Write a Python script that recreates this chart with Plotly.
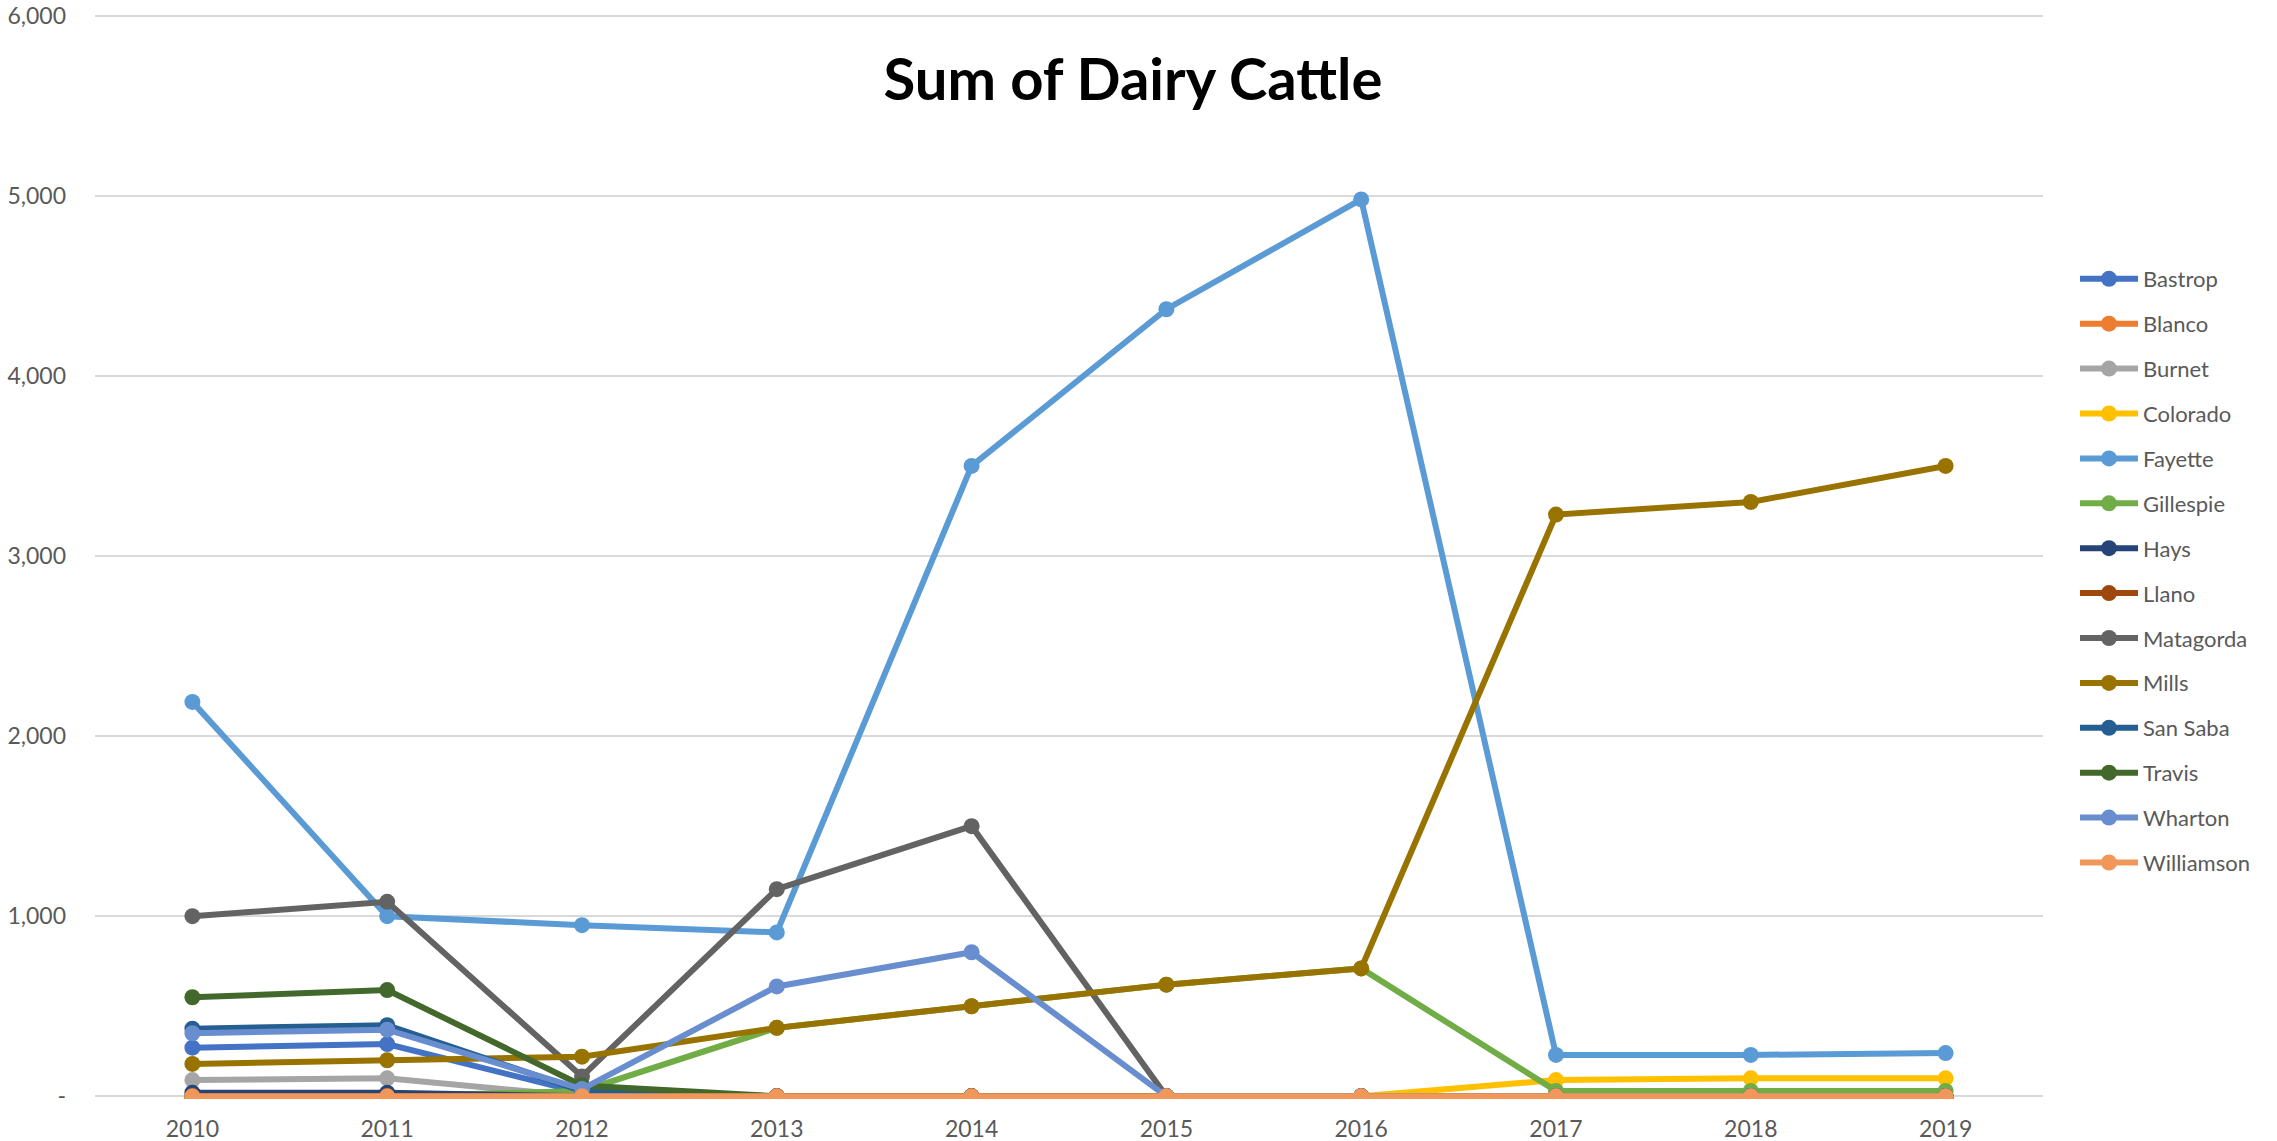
import plotly.graph_objects as go

years = ["2010", "2011", "2012", "2013", "2014", "2015", "2016", "2017", "2018", "2019"]

bastrop = [270, 290, 20, 0, 0, 0, 0, 0, 0, 0]
blanco = [0, 0, 0, 0, 0, 0, 0, 0, 0, 0]
burnet = [90, 100, 0, 0, 0, 0, 0, 0, 0, 0]
colorado = [0, 0, 0, 0, 0, 0, 0, 90, 100, 100]
fayette = [2190, 1000, 950, 910, 3500, 4370, 4980, 230, 230, 240]
gillespie = [0, 0, 30, 380, 500, 620, 710, 30, 30, 30]
hays = [20, 20, 0, 0, 0, 0, 0, 0, 0, 0]
llano = [0, 0, 0, 0, 0, 0, 0, 0, 0, 0]
matagorda = [1000, 1080, 110, 1150, 1500, 0, 0, 0, 0, 0]
mills = [180, 200, 220, 380, 500, 620, 710, 3230, 3300, 3500]
san_saba = [375, 395, 30, 0, 0, 0, 0, 0, 0, 0]
travis = [550, 590, 60, 0, 0, 0, 0, 0, 0, 0]
wharton = [350, 370, 40, 610, 800, 0, 0, 0, 0, 0]
williamson = [0, 0, 0, 0, 0, 0, 0, 0, 0, 0]

series = [
    ("Bastrop", bastrop, "#4472C4"),
    ("Blanco", blanco, "#ED7D31"),
    ("Burnet", burnet, "#A5A5A5"),
    ("Colorado", colorado, "#FFC000"),
    ("Fayette", fayette, "#5B9BD5"),
    ("Gillespie", gillespie, "#70AD47"),
    ("Hays", hays, "#264478"),
    ("Llano", llano, "#9E480E"),
    ("Matagorda", matagorda, "#636363"),
    ("Mills", mills, "#997300"),
    ("San Saba", san_saba, "#255E91"),
    ("Travis", travis, "#43682B"),
    ("Wharton", wharton, "#698ED0"),
    ("Williamson", williamson, "#F1975A"),
]

y_ticks = [0, 1000, 2000, 3000, 4000, 5000, 6000]
y_ticktext = ["-", "1,000", "2,000", "3,000", "4,000", "5,000", "6,000"]

fig = go.Figure()
for name, values, color in series:
    fig.add_trace(go.Scatter(
        x=years,
        y=values,
        name=name,
        mode="lines+markers",
        line=dict(color=color, width=6),
        marker=dict(color=color, size=16),
        legendgroup=name,
    ))

fig.update_layout(
    width=2277,
    height=1141,
    plot_bgcolor="white",
    paper_bgcolor="white",
    font=dict(family="Lato, Open Sans, sans-serif", color="#595959", size=22),
    title=dict(
        text="<b>Sum of Dairy Cattle</b>",
        x=1133 / 2277,
        xanchor="center",
        xref="container",
        y=1 - 80 / 1141,
        yanchor="middle",
        font=dict(size=58, color="black", family="Lato, Open Sans, sans-serif"),
    ),
    margin=dict(l=95, r=234, t=13, b=42, autoexpand=False),
    legend=dict(
        xref="container",
        yref="container",
        x=2075 / 2277,
        y=1 - 258 / 1141,
        xanchor="left",
        yanchor="top",
        font=dict(size=22, color="#595959"),
        tracegroupgap=13.3,
        itemwidth=58,
        maxheight=900,
        bgcolor="rgba(0,0,0,0)",
    ),
    showlegend=True,
)
fig.update_xaxes(
    type="category",
    range=[-0.5, 9.5],
    showgrid=False,
    showline=False,
    zeroline=False,
    ticks="",
    ticklabelstandoff=14,
    tickfont=dict(size=23, color="#595959"),
)
# range padded a little so the 0 and 6,000 gridlines are kept
fig.update_yaxes(
    range=[-15, 6015],
    tickvals=y_ticks,
    ticktext=y_ticktext,
    showgrid=True,
    gridcolor="#D9D9D9",
    gridwidth=2,
    zeroline=False,
    showline=False,
    ticks="",
    ticklabelstandoff=28,
    ticklabeloverflow="allow",
    tickfont=dict(size=23, color="#595959"),
)

fig.write_html(
    "out.html",
    config={"displayModeBar": False},
    post_script="document.body.style.margin='0';",
)
